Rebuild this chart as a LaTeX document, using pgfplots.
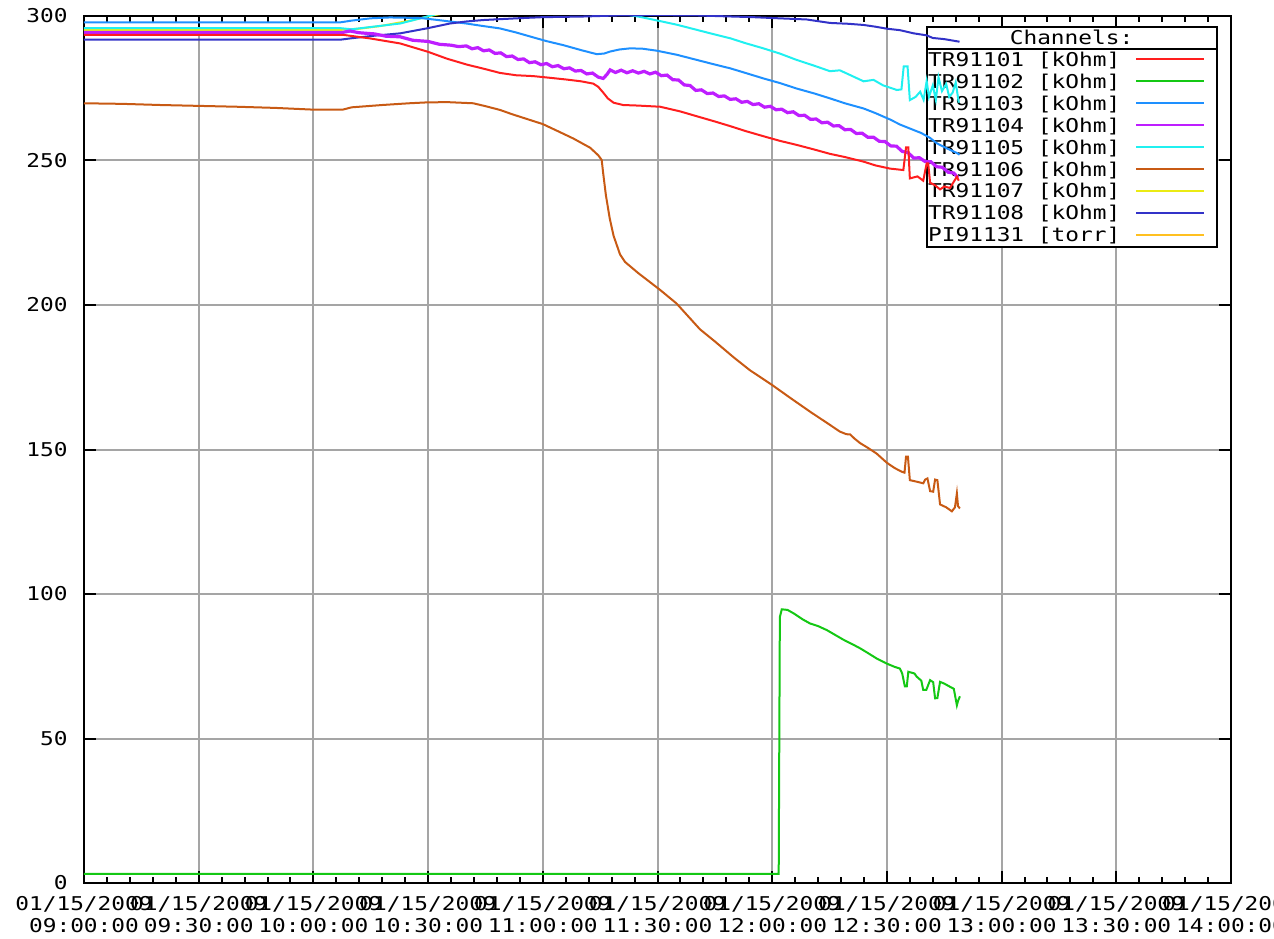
\documentclass[border=0pt]{standalone}
\usepackage{pgfplots}
\pgfplotsset{compat=1.18}
\usepackage{fontspec}
\newfontfamily\chartfont[FakeStretch=1.2]{DejaVu Sans Mono}
\newcommand\cf{\chartfont\fontsize{9.5pt}{11pt}\selectfont}
\definecolor{gridgray}{RGB}{165,165,165}
\definecolor{cRed}{RGB}{255,30,30}
\definecolor{cGreen}{RGB}{20,200,20}
\definecolor{cLBlue}{RGB}{30,144,255}
\definecolor{cPurple}{RGB}{190,30,255}
\definecolor{cCyan}{RGB}{32,240,240}
\definecolor{cBrown}{RGB}{200,90,20}
\definecolor{cYellow}{RGB}{235,235,20}
\definecolor{cDBlue}{RGB}{50,50,200}
\definecolor{cOrange}{RGB}{255,192,32}
\begin{document}
\begin{tikzpicture}
\begin{axis}[
  scale only axis, width=573.5pt, height=433.5pt,
  xmin=0, xmax=300, ymin=0, ymax=300,
  xtick={0,30,...,300}, minor x tick num=4,
  ytick={0,50,...,300},
  xticklabels={{01/15/2009\\09:00:00},{01/15/2009\\09:30:00},{01/15/2009\\10:00:00},{01/15/2009\\10:30:00},{01/15/2009\\11:00:00},{01/15/2009\\11:30:00},{01/15/2009\\12:00:00},{01/15/2009\\12:30:00},{01/15/2009\\13:00:00},{01/15/2009\\13:30:00},{01/15/2009\\14:00:00}},
  yticklabels={0,50,100,150,200,250,300},
  grid=major, major grid style={color=gridgray, line width=1pt},
  axis line style={line width=1pt, black},
  major tick length=6pt, minor tick length=3pt,
  every tick/.style={black, line width=1pt},
  tick align=inside,
  xticklabel style={font=\cf, align=center, inner sep=0pt, yshift=-6.6pt},
  yticklabel style={font=\cf, inner sep=0pt, xshift=-8pt},
  every axis plot/.append style={line width=1pt},
]
% legend box (drawn before data, after grid)
\draw[fill=white, line width=1pt] (axis description cs:0.7346,0.7338) rectangle (axis description cs:0.9875,0.9619);
\draw[fill=white, line width=1pt] (axis description cs:0.7346,0.9619) rectangle (axis description cs:0.9875,0.9875);
\node[font=\cf, inner sep=0pt, text height=6.9pt, text depth=0pt] at (axis description cs:0.8610,0.9752) {Channels:};
\node[font=\cf, anchor=west, inner sep=0pt, text height=6.9pt, text depth=0pt] at (axis description cs:0.7356,0.9501) {TR91101 [kOhm]};
\node[font=\cf, anchor=west, inner sep=0pt, text height=6.9pt, text depth=0pt] at (axis description cs:0.7356,0.9247) {TR91102 [kOhm]};
\node[font=\cf, anchor=west, inner sep=0pt, text height=6.9pt, text depth=0pt] at (axis description cs:0.7356,0.8994) {TR91103 [kOhm]};
\node[font=\cf, anchor=west, inner sep=0pt, text height=6.9pt, text depth=0pt] at (axis description cs:0.7356,0.8741) {TR91104 [kOhm]};
\node[font=\cf, anchor=west, inner sep=0pt, text height=6.9pt, text depth=0pt] at (axis description cs:0.7356,0.8487) {TR91105 [kOhm]};
\node[font=\cf, anchor=west, inner sep=0pt, text height=6.9pt, text depth=0pt] at (axis description cs:0.7356,0.8234) {TR91106 [kOhm]};
\node[font=\cf, anchor=west, inner sep=0pt, text height=6.9pt, text depth=0pt] at (axis description cs:0.7356,0.7981) {TR91107 [kOhm]};
\node[font=\cf, anchor=west, inner sep=0pt, text height=6.9pt, text depth=0pt] at (axis description cs:0.7356,0.7728) {TR91108 [kOhm]};
\node[font=\cf, anchor=west, inner sep=0pt, text height=6.9pt, text depth=0pt] at (axis description cs:0.7356,0.7474) {PI91131 [torr]};
\draw[cRed, line width=1pt] (axis description cs:0.9172,0.9501) -- (axis description cs:0.9765,0.9501);
\draw[cGreen, line width=1pt] (axis description cs:0.9172,0.9247) -- (axis description cs:0.9765,0.9247);
\draw[cLBlue, line width=1pt] (axis description cs:0.9172,0.8994) -- (axis description cs:0.9765,0.8994);
\draw[cPurple, line width=1pt] (axis description cs:0.9172,0.8741) -- (axis description cs:0.9765,0.8741);
\draw[cCyan, line width=1pt] (axis description cs:0.9172,0.8487) -- (axis description cs:0.9765,0.8487);
\draw[cBrown, line width=1pt] (axis description cs:0.9172,0.8234) -- (axis description cs:0.9765,0.8234);
\draw[cYellow, line width=1pt] (axis description cs:0.9172,0.7981) -- (axis description cs:0.9765,0.7981);
\draw[cDBlue, line width=1pt] (axis description cs:0.9172,0.7728) -- (axis description cs:0.9765,0.7728);
\draw[cOrange, line width=1pt] (axis description cs:0.9172,0.7474) -- (axis description cs:0.9765,0.7474);

% PI91131 [torr] (off scale)
\addplot[cOrange] coordinates {(0,310) (229,310)};
% TR91107
\addplot[cYellow] coordinates {(0,295.2) (67,295.2) (72,295.6) (77.4,296.5) (82,297.6) (86.1,298.6) (87.9,299.2) (92,300.4) (100,302) (120,305) (160,310) (229,318)};
% TR91105
\addplot[cCyan] coordinates {(0,295.8) (67,295.8) (70,295.4) (75,296.2) (82.7,297.4) (88,299.2) (92,300.6) (100,302.5) (110,303.6) (118,303.8) (126,303.2) (134,302) (140,300.9) (145.4,299.7) (151.5,298) (155,297) (160.3,295.2) (165,293.6) (169,292.3) (173,290.6) (177.7,288.8) (182,287) (186.4,284.8) (191,282.8) (195.1,280.9) (197.7,281.2) (200,279.8) (203.9,277.4) (206.5,277.9) (209,276) (212.6,274.4) (213.8,274.6) (214.4,282.6) (215.4,282.6) (216,270.9) (217.5,272) (218.7,273.8) (219.6,271) (220.4,277.5) (221,272) (222,276) (222.8,271) (223.5,278.8) (224.4,274) (225.5,276.5) (226.3,272) (227.2,273.5) (228,277) (228.8,270)};
% TR91103
\addplot[cLBlue] coordinates {(0,297.8) (67,297.8) (70,298.4) (75,299.2) (80,299.5) (88,299.3) (92,298.7) (100,297.4) (104,296.6) (108.8,295.7) (113,294.3) (117.5,292.6) (121,291.3) (125.4,289.9) (130,288.2) (134.1,286.8) (136,287) (137.6,287.7) (140,288.4) (142.8,288.8) (146,288.7) (149.8,288) (155,286.6) (160.3,284.8) (165,283.2) (169,281.9) (173,280.3) (177.7,278.4) (182,276.8) (186.4,274.9) (191,273.2) (195.1,271.5) (199,269.8) (203.9,268) (207,266.4) (210.8,264.2) (213.5,262.4) (216.9,260.6) (219,259.5) (221.3,257.8) (223,256) (225.5,254.3) (228.3,252.6) (229,252)};
% TR91108
\addplot[cDBlue] coordinates {(0,291.8) (67,291.8) (70,292.3) (76,293.2) (82.7,294) (89.6,295.7) (95.7,297.4) (100,298.1) (104.4,298.6) (113.2,299.2) (120,299.6) (130,299.8) (140,300.2) (150,300.3) (160,300.2) (170,299.8) (175,299.6) (180,299.3) (189,298.8) (195.1,297.6) (200,297.3) (203.9,296.9) (207,296.3) (210,295.6) (213.4,295.1) (217,294) (220.4,293.3) (222,292.4) (225,292.0) (229,291.1)};
% TR91104
\addplot[cPurple, line width=1.6pt] coordinates {(0,294.3) (67.5,294.3) (69.6,294.8) (72,294.2) (76,293.8) (79,293.0) (82.7,292.8) (86,291.6) (90,291.2) (93,290.2) (96,289.9) (98,289.4) (100,289.65) (101.5,288.65) (103,289.05) (104.5,287.95) (106,288.25) (107.5,287.05) (109,287.25) (110.5,285.95) (112,286.15) (113.5,284.95) (115,285.15) (116.5,283.85) (118,284.15) (119.5,283.15) (121,283.55) (122.5,282.45) (124,282.85) (125.5,281.75) (127,282.05) (128.5,280.95) (130,281.15) (131.5,279.95) (133,280.25) (134.5,278.85) (135.8,278.4) (136.8,279.8) (137.6,281.35) (139,280.45) (140.5,281.25) (142,280.35) (143.5,281.05) (145,280.25) (146.5,280.85) (148,279.95) (149.5,280.55) (151,279.35) (152.5,279.55) (154,277.95) (155.5,277.85) (157,276.15) (158.5,275.95) (160,274.25) (161.5,274.45) (163,273.15) (164.5,273.35) (166,272.15) (167.5,272.35) (169,271.15) (170.5,271.35) (172,270.15) (173.5,270.45) (175,269.35) (176.5,269.65) (178,268.45) (179.5,268.75) (181,267.55) (182.5,267.75) (184,266.55) (185.5,266.85) (187,265.55) (188.5,265.65) (190,264.25) (191.5,264.35) (193,263.05) (194.5,263.25) (196,261.95) (197.5,262.05) (199,260.65) (200.5,260.75) (202,259.35) (203.5,259.45) (205,258.05) (206.5,258.05) (208,256.65) (209.5,256.55) (211,255.05) (212.5,254.95) (214,253.15) (215.5,252.75) (217,250.85) (218.5,250.95) (220,249.65) (221.5,249.55) (223,247.85) (224.5,247.65) (226,245.95) (227.5,245.65) (228.6,244.0)};
% TR91101
\addplot[cRed] coordinates {(0,293.5) (67.7,293.5) (75,292.2) (82.7,290.5) (90,287.6) (95,285.2) (100.1,283.2) (105,281.6) (108.8,280.3) (113,279.5) (117.5,279.2) (122,278.6) (126.3,278) (130,277.4) (133.2,276.6) (134.5,275.5) (135.8,273.5) (137,271.5) (138.5,270) (141,269.2) (145,269) (150.7,268.6) (155.9,267) (160.3,265.3) (165,263.5) (169,261.9) (173,260.2) (177.7,258.4) (182,256.8) (186.4,255.4) (191,253.8) (195.1,252.3) (199,251.2) (203.9,249.6) (207,248.3) (210.8,247.2) (214.3,246.7) (215.0,254.5) (215.6,254.5) (216,243.8) (218,244.5) (219.5,243) (220.4,249) (220.8,249) (221.3,242.3) (222.5,241.5) (223.9,240) (225,241) (226.5,240.5) (228.3,244.4) (228.8,243)};
% TR91106
\addplot[cBrown] coordinates {(0,269.8) (10,269.6) (20,269.2) (30,268.9) (40,268.6) (50,268.2) (60,267.6) (67.7,267.6) (70,268.4) (78,269.2) (85,269.8) (89.6,270.1) (95,270.2) (101.8,269.8) (105,268.8) (108.8,267.5) (112,266) (116.7,264) (120,262.6) (124.5,259.8) (128,257.6) (132.4,254.4) (134.5,251.8) (135.4,250.2) (135.8,245.5) (136.5,238) (137.5,230) (138.5,224) (140.2,217.5) (141.5,214.9) (145,211) (150.7,205.2) (155,200.5) (161.1,191.6) (165,187.4) (170,181.8) (174.2,177.4) (180,172.3) (185,167.6) (190,163.0) (195,158.6) (197.7,156.2) (199.4,155.3) (200.4,155.2) (201.5,153.8) (203,152.2) (205,150.6) (207.3,148.6) (210,145.4) (212,143.6) (213.9,142.3) (214.6,142) (215.0,147.5) (215.5,147.5) (216,139.4) (218,138.8) (219.5,138.3) (220,139.6) (220.6,140) (221.3,135.6) (222.1,135.4) (222.6,139.6) (223.2,139.4) (223.9,131) (225.5,130) (227,128.6) (227.8,130) (228.3,134.8) (228.6,130.4) (229.1,129.6)};
% TR91102
\addplot[cGreen] coordinates {(0,3.2) (181.7,3.2) (182.0,92) (182.5,94.7) (184,94.5) (185.6,93.3) (188,91.2) (189.9,89.8) (192,88.9) (194.3,87.5) (196,86.2) (198.6,84.2) (201,82.6) (203,81.2) (205,79.6) (207.3,77.7) (210,75.9) (212,74.8) (213.4,74.2) (214,72.5) (214.7,68) (215.2,68) (215.6,73.1) (217.2,72.5) (217.8,71.4) (219,70) (219.5,66.8) (220.3,66.8) (221.3,70.2) (222.1,69.5) (222.6,63.9) (223.2,64) (223.9,69.6) (225,69) (226.5,67.9) (227.5,67.2) (228.3,61.5) (228.6,63) (229.1,64.6)};
\end{axis}
\pgfresetboundingbox
\path (-42pt,-27.5pt) rectangle (595pt,441.5pt);
\end{tikzpicture}
\end{document}
